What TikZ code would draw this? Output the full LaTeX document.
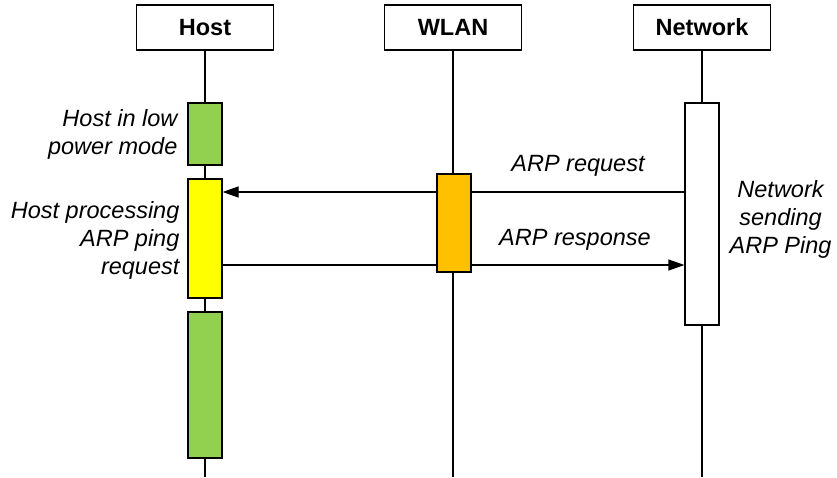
\documentclass[tikz,border=0pt]{standalone}
\usepackage{fontspec}
\setmainfont{Liberation Sans}
\usetikzlibrary{arrows.meta}

\definecolor{sleepgreen}{HTML}{92D050}
\definecolor{busyyellow}{HTML}{FFFF00}
\definecolor{wlanorange}{HTML}{FFC000}

\begin{document}
\begin{tikzpicture}[x=1pt,y=-1pt,line width=1.2pt,
    actor/.style={draw,fill=white,minimum width=137pt,minimum height=45pt,inner sep=0pt,
                  font=\fontsize{23.5}{28}\selectfont\bfseries},
    bar/.style={draw,minimum width=34pt,inner sep=0pt},
    note/.style={inner sep=0pt,font=\fontsize{23.5}{28}\selectfont\itshape},
    msg/.style={-{Triangle[length=16pt,width=11pt]}}]
            \useasboundingbox (0,0) rectangle (837,477);

            % the three parties
            \node[actor] (host) at (205,27.5) {Host};
            \node[actor] (wlan) at (453,27.5) {WLAN};
            \node[actor] (net)  at (702,27.5) {Network};

            \coordinate (bottom) at (0,477);
            \coordinate (req)    at (0,192);
            \coordinate (resp)   at (0,265);

            \draw (host.south) -- (host.south |- bottom);
            \draw (wlan.south) -- (wlan.south |- bottom);
            \draw (net.south)  -- (net.south |- bottom);

            % host side
            \node[bar,fill=sleepgreen,minimum height=62pt]  (lowpower) at (205,134) {};
            \node[bar,fill=busyyellow,minimum height=119pt] (ping)     at (205,238.5) {};
            \node[bar,fill=sleepgreen,minimum height=146pt] (asleep)   at (205,385) {};

            % network side
            \node[bar,fill=white,minimum height=222pt] (netbar) at (702,214) {};

            \draw[msg] (netbar.west |- req) -- (ping.east |- req);
            \draw[msg] (ping.east |- resp) -- (netbar.west |- resp);

            % wlan on top of the messages
            \node[bar,fill=wlanorange,minimum height=98pt] (offload) at (454,223) {};

            \node[note,anchor=south] (reqtxt)  at (578,177) {ARP request};
            \node[note,anchor=south] (resptxt) at (575,251) {ARP response};

            \node[note,anchor=east,align=right]  (lowtxt)  at (178,134) {Host in low\\power mode};
            \node[note,anchor=east,align=right]  (pingtxt) at (180,240) {Host processing\\ARP ping\\request};
            \node[note,anchor=west,align=center] (nettxt)  at (729,219) {Network\\sending\\ARP Ping};
        \end{tikzpicture}
\end{document}
